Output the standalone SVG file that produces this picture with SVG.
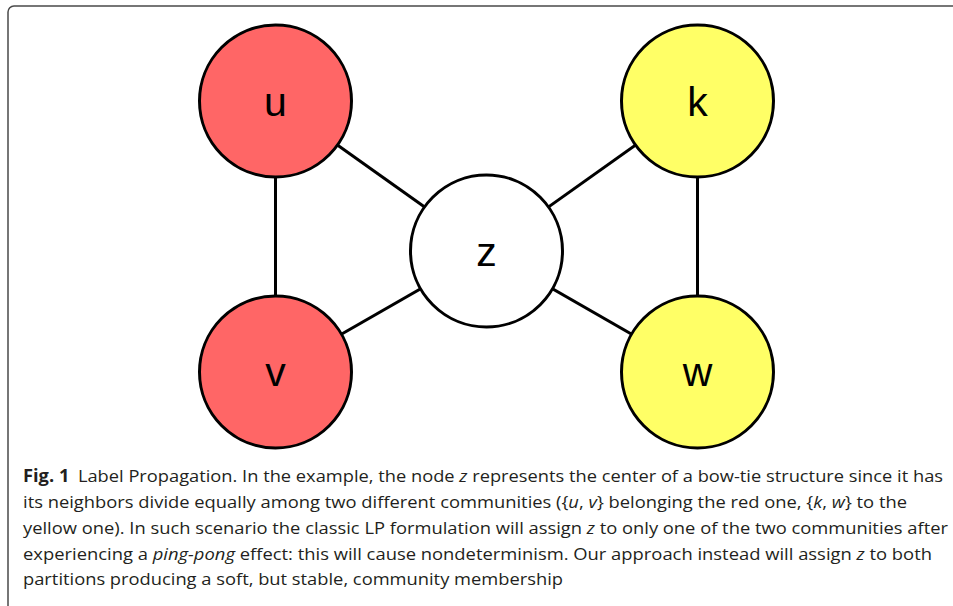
<svg xmlns="http://www.w3.org/2000/svg" width="953" height="606" viewBox="0 0 953 606">
  <style>
    .frame { fill: none; stroke: #4a4a4a; stroke-width: 1.5; }
    .edge { stroke: #000; stroke-width: 3; stroke-linecap: butt; }
    .node { stroke: #000; stroke-width: 3; }
    .red { fill: #ff6666; }
    .yellow { fill: #ffff66; }
    .white { fill: #ffffff; }
    .label { font-family: "Liberation Sans", Arial, sans-serif; font-size: 41px; fill: #000; text-anchor: middle; }
    .caption { font-family: "Open Sans", "Noto Sans", sans-serif; font-size: 17px; fill: #231f20; }
    .b { font-weight: bold; }
    .i { font-style: italic; }
  </style>

  <rect width="953" height="606" fill="#ffffff"/>

  <!-- figure frame: open on the right and bottom -->
  <path class="frame" d="M8,606 V12 A6,6 0 0 1 14,6 H953"/>

  <!-- connectors drawn centre to centre, covered by the node discs -->
  <g id="edges">
    <line class="edge" x1="275.5" y1="101" x2="275.5" y2="372"/>
    <line class="edge" x1="275.5" y1="101" x2="486.5" y2="251"/>
    <line class="edge" x1="275.5" y1="372" x2="486.5" y2="251"/>
    <line class="edge" x1="697.5" y1="101" x2="486.5" y2="251"/>
    <line class="edge" x1="697.5" y1="372" x2="486.5" y2="251"/>
    <line class="edge" x1="697.5" y1="101" x2="697.5" y2="372"/>
  </g>

  <g id="node-u">
    <circle class="node red" cx="275.5" cy="101" r="76"/>
    <text class="label" x="275.5" y="116">u</text>
  </g>
  <g id="node-v">
    <circle class="node red" cx="275.5" cy="372" r="76"/>
    <text class="label" x="275.5" y="386">v</text>
  </g>
  <g id="node-z">
    <circle class="node white" cx="486.5" cy="251" r="76"/>
    <text class="label" x="486.5" y="266">z</text>
  </g>
  <g id="node-k">
    <circle class="node yellow" cx="697.5" cy="101" r="76"/>
    <text class="label" x="697.5" y="116">k</text>
  </g>
  <g id="node-w">
    <circle class="node yellow" cx="697.5" cy="372" r="76"/>
    <text class="label" x="697.5" y="386">w</text>
  </g>

  <g id="caption" class="caption">
    <text x="23" y="482" textLength="920" lengthAdjust="spacingAndGlyphs"><tspan class="b">Fig. 1</tspan><tspan dx="8">Label Propagation. In the example, the node </tspan><tspan class="i">z</tspan> represents the center of a bow-tie structure since it has</text>
    <text x="23" y="508" textLength="884" lengthAdjust="spacingAndGlyphs">its neighbors divide equally among two different communities ({<tspan class="i">u</tspan>, <tspan class="i">v</tspan>} belonging the red one, {<tspan class="i">k</tspan>, <tspan class="i">w</tspan>} to the</text>
    <text x="23" y="534" textLength="925" lengthAdjust="spacingAndGlyphs">yellow one). In such scenario the classic LP formulation will assign <tspan class="i">z</tspan> to only one of the two communities after</text>
    <text x="23" y="560" textLength="909" lengthAdjust="spacingAndGlyphs">experiencing a <tspan class="i">ping-pong</tspan> effect: this will cause nondeterminism. Our approach instead will assign <tspan class="i">z</tspan> to both</text>
    <text x="23" y="585" textLength="540" lengthAdjust="spacingAndGlyphs">partitions producing a soft, but stable, community membership</text>
  </g>
</svg>
